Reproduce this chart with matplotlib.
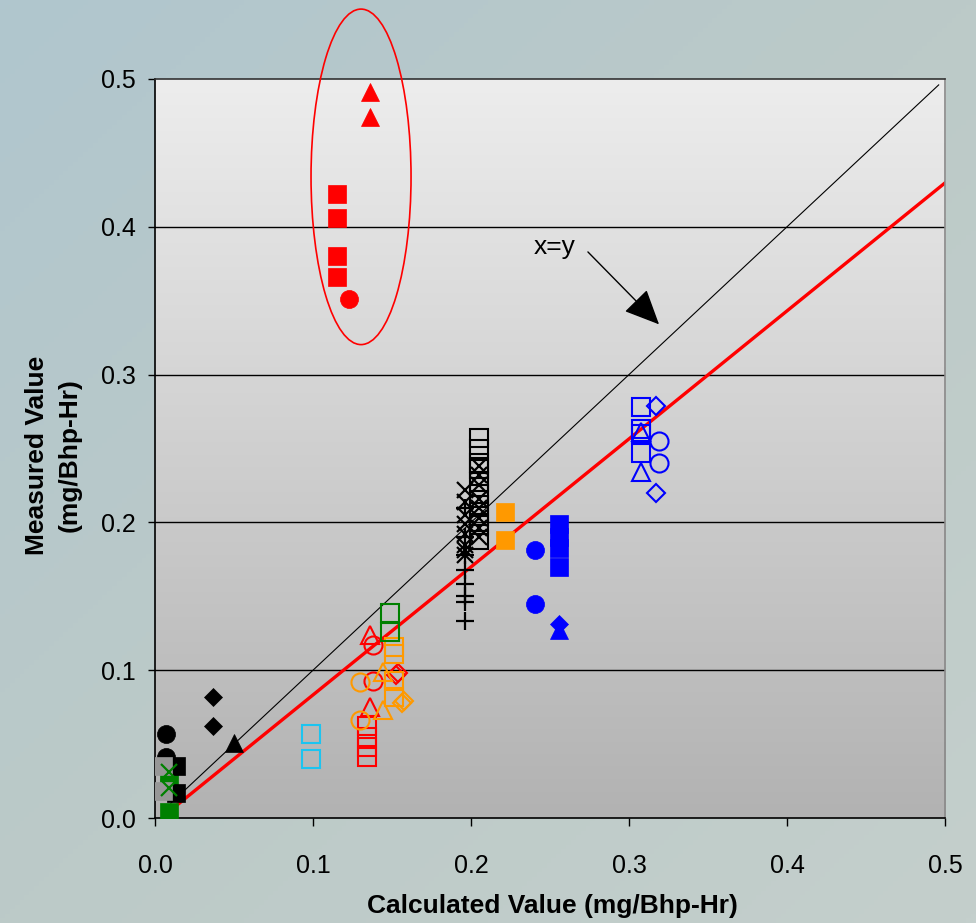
import matplotlib.pyplot as plt
import numpy as np
from matplotlib.colors import LinearSegmentedColormap
from matplotlib.patches import Ellipse

plt.rcParams["font.family"] = ["Liberation Sans", "DejaVu Sans"]

# calculated (x) vs measured (y), mg/Bhp-Hr
# circled outliers (filled red)
red_sq_x = [0.115, 0.115, 0.115, 0.115]
red_sq_y = [0.422, 0.406, 0.380, 0.366]
red_tri_x = [0.136, 0.136]
red_tri_y = [0.491, 0.474]
red_dot_x = [0.123]
red_dot_y = [0.351]

# near the origin
blk_dot_x = [0.007, 0.007]
blk_dot_y = [0.057, 0.041]
blk_dia_x = [0.037, 0.037]
blk_dia_y = [0.082, 0.062]
blk_tri_x = [0.050]
blk_tri_y = [0.051]
blk_sq_x = [0.013, 0.013]
blk_sq_y = [0.035, 0.017]
grn_sq_x = [0.009, 0.009]
grn_sq_y = [0.027, 0.004]
gry_sq_x = [0.005, 0.005]
gry_sq_y = [0.035, 0.018]
grn_x_x = [0.009, 0.009]
grn_x_y = [0.031, 0.020]

# light blue open squares
cyan_sq_x = [0.099, 0.099]
cyan_sq_y = [0.057, 0.040]

# red open group
ro_sq_x = [0.134, 0.134, 0.134, 0.134]
ro_sq_y = [0.062, 0.055, 0.048, 0.041]
ro_tri_x = [0.136, 0.136]
ro_tri_y = [0.124, 0.075]
ro_dot_x = [0.138, 0.138]
ro_dot_y = [0.117, 0.093]
ro_dia_x = [0.1525, 0.1535]
ro_dia_y = [0.097, 0.098]

# orange open group
oo_dot_x = [0.130, 0.130]
oo_dot_y = [0.092, 0.066]
oo_tri_x = [0.144, 0.144]
oo_tri_y = [0.099, 0.073]
oo_sq_x = [0.151, 0.151, 0.151, 0.151]
oo_sq_y = [0.116, 0.111, 0.093, 0.082]
oo_dia_x = [0.1565, 0.1575]
oo_dia_y = [0.078, 0.079]

# green open squares
go_sq_x = [0.149, 0.149]
go_sq_y = [0.139, 0.126]

# black cluster around 0.2
bo_sq_x = [0.205] * 10
bo_sq_y = [0.257, 0.250, 0.240, 0.236, 0.227, 0.219, 0.212, 0.204, 0.198, 0.188]
bx_a_x = [0.205] * 8
bx_a_y = [0.238, 0.232, 0.225, 0.216, 0.210, 0.203, 0.196, 0.190]
bx_b_x = [0.196] * 8
bx_b_y = [0.222, 0.214, 0.205, 0.199, 0.192, 0.185, 0.181, 0.178]
bplus_x = [0.196] * 8
bplus_y = [0.210, 0.190, 0.178, 0.168, 0.158, 0.150, 0.146, 0.133]

# orange filled
of_sq_x = [0.2215, 0.2215]
of_sq_y = [0.207, 0.188]

# blue filled
bf_dot_x = [0.2405, 0.2405]
bf_dot_y = [0.181, 0.145]
bf_sq_x = [0.2555] * 4
bf_sq_y = [0.199, 0.190, 0.183, 0.170]
bf_dia_x = [0.2555]
bf_dia_y = [0.131]
bf_tri_x = [0.2555]
bf_tri_y = [0.127]

# blue open
bl_sq_x = [0.3076] * 4
bl_sq_y = [0.278, 0.2635, 0.260, 0.247]
bl_tri_x = [0.3076, 0.3076]
bl_tri_y = [0.261, 0.234]
bl_dot_x = [0.319, 0.319]
bl_dot_y = [0.255, 0.2405]
bl_dia_x = [0.317, 0.317]
bl_dia_y = [0.279, 0.220]

# trend line and x=y
fit_x = [0.008, 0.5]
fit_y = [0.0036, 0.4297]
xy_x = [0.01, 0.496]
xy_y = [0.01, 0.496]

RED = "#ff0000"
ORANGE = "#ff9900"
GREEN = "#008000"
BLUE = "#0000ff"
CYAN = "#1cc4f0"
GRAY = "#979797"

# (x, y, marker, colour, filled)
series = [
    (red_sq_x, red_sq_y, "s", RED, True),
    (red_tri_x, red_tri_y, "^", RED, True),
    (red_dot_x, red_dot_y, "o", RED, True),
    (blk_dot_x, blk_dot_y, "o", "k", True),
    (blk_dia_x, blk_dia_y, "D", "k", True),
    (blk_tri_x, blk_tri_y, "^", "k", True),
    (grn_sq_x, grn_sq_y, "s", GREEN, True),
    (blk_sq_x, blk_sq_y, "s", "k", True),
    (gry_sq_x, gry_sq_y, "s", GRAY, True),
    (grn_x_x, grn_x_y, "x", GREEN, True),
    (cyan_sq_x, cyan_sq_y, "s", CYAN, False),
    (ro_sq_x, ro_sq_y, "s", RED, False),
    (ro_tri_x, ro_tri_y, "^", RED, False),
    (ro_dot_x, ro_dot_y, "o", RED, False),
    (ro_dia_x, ro_dia_y, "D", RED, False),
    (oo_dot_x, oo_dot_y, "o", ORANGE, False),
    (oo_tri_x, oo_tri_y, "^", ORANGE, False),
    (oo_sq_x, oo_sq_y, "s", ORANGE, False),
    (oo_dia_x, oo_dia_y, "D", ORANGE, False),
    (go_sq_x, go_sq_y, "s", GREEN, False),
    (bplus_x, bplus_y, "+", "k", True),
    (bx_b_x, bx_b_y, "x", "k", True),
    (bo_sq_x, bo_sq_y, "s", "k", False),
    (bx_a_x, bx_a_y, "x", "k", True),
    (of_sq_x, of_sq_y, "s", ORANGE, True),
    (bf_dot_x, bf_dot_y, "o", BLUE, True),
    (bf_sq_x, bf_sq_y, "s", BLUE, True),
    (bf_dia_x, bf_dia_y, "D", BLUE, True),
    (bf_tri_x, bf_tri_y, "^", BLUE, True),
    (bl_sq_x, bl_sq_y, "s", BLUE, False),
    (bl_tri_x, bl_tri_y, "^", BLUE, False),
    (bl_dot_x, bl_dot_y, "o", BLUE, False),
    (bl_dia_x, bl_dia_y, "D", BLUE, False),
]
SIZES = {"s": 13, "o": 13, "^": 13, "D": 9, "x": 12, "+": 13}

fig = plt.figure(figsize=(9.76, 9.23), dpi=100)

# slide background
bg = fig.add_axes([0, 0, 1, 1], zorder=-10)
gx = np.linspace(0, 1, 200)
grad = 0.5 * gx[None, :] + 0.5 * gx[:, None]
bg_cmap = LinearSegmentedColormap.from_list("bg", ["#b0c6ce", "#bccac8", "#c4cfcc"])
bg.imshow(grad, cmap=bg_cmap, aspect="auto", extent=[0, 1, 0, 1])
bg.axis("off")

ax = fig.add_axes([155 / 976, 1 - 818 / 923, 790 / 976, 739 / 923])
ax.patch.set_alpha(0)
plot_cmap = LinearSegmentedColormap.from_list("plot", ["#ededed", "#b2b2b2"])
ax.imshow(np.linspace(0, 1, 256).reshape(-1, 1), cmap=plot_cmap,
          extent=[0, 0.5, 0, 0.5], aspect="auto", zorder=0)

for yv in [0.1, 0.2, 0.3, 0.4]:
    ax.axhline(yv, color="k", lw=1.0, zorder=1)

ax.plot(xy_x, xy_y, color="k", lw=0.8, zorder=2)
ax.plot(fit_x, fit_y, color=RED, lw=2.4, zorder=2)

for x, y, m, c, filled in series:
    ms = SIZES[m]
    if m in ("x", "+"):
        ax.plot(x, y, ls="none", marker=m, ms=ms, mew=1.6, color=c, zorder=3)
    elif filled:
        ax.plot(x, y, ls="none", marker=m, ms=ms, mfc=c, mec=c, mew=0.5, zorder=3)
    else:
        ax.plot(x, y, ls="none", marker=m, ms=ms, mfc="none", mec=c, mew=1.5, zorder=3)

ax.add_patch(Ellipse((0.1304, 0.4338), 0.0633, 0.227, fill=False,
                     edgecolor=RED, lw=1.2, clip_on=False, zorder=4))

ax.text(0.2532, 0.3865, "x=y", fontsize=19, ha="center", va="center", zorder=4)
ax.annotate("", xy=(0.319, 0.334), xytext=(0.274, 0.383),
            arrowprops=dict(arrowstyle="-|>,head_length=1.1,head_width=0.5",
                            mutation_scale=20, color="k", lw=1.0, shrinkA=0, shrinkB=0),
            zorder=4)

ax.set_xlim(0, 0.5)
ax.set_ylim(0, 0.5)
ticks = [0.0, 0.1, 0.2, 0.3, 0.4, 0.5]
ax.set_xticks(ticks)
ax.set_yticks(ticks)
ax.set_xticklabels([f"{t:.1f}" for t in ticks])
ax.set_yticklabels([f"{t:.1f}" for t in ticks])
ax.tick_params(axis="x", direction="out", length=6, width=1, labelsize=18, pad=20)
ax.tick_params(axis="y", direction="out", length=5, width=1, labelsize=18, pad=9)

ax.spines["left"].set_color("k")
ax.spines["bottom"].set_color("k")
ax.spines["top"].set_color("#333333")
ax.spines["right"].set_color("#888888")
for s in ax.spines.values():
    s.set_linewidth(1.2)

fig.text(53 / 976, 1 - 455 / 923, "Measured Value\n(mg/Bhp-Hr)", rotation=90,
         ha="center", va="center", fontsize=19, fontweight="bold", multialignment="center",
         linespacing=1.45)
fig.text(552 / 976, 1 - 906 / 923, "Calculated Value (mg/Bhp-Hr)",
         ha="center", va="center", fontsize=19, fontweight="bold")

fig.savefig("out.png", dpi=100)
